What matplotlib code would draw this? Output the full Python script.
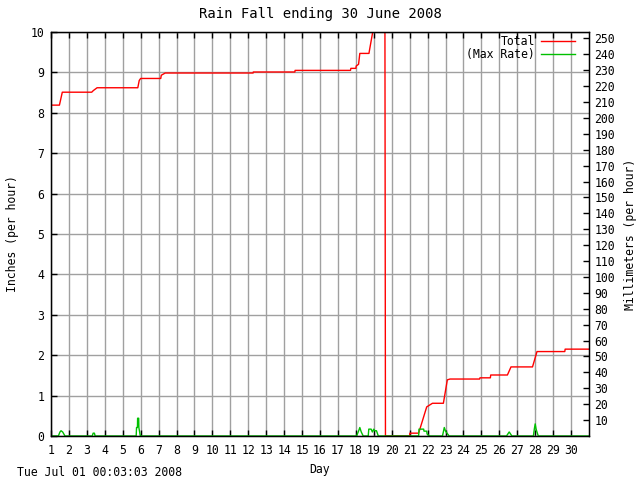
import numpy as np
from matplotlib import pyplot as plt

# cumulative rain total (inches) by day
total_day = [1.0, 1.47, 1.6, 1.63, 3.27, 3.36, 3.57, 5.84, 5.92, 6.0, 7.12, 7.15, 7.37,
             12.27, 12.28, 14.6, 14.61, 17.7, 17.72, 18.0, 18.02, 18.15, 18.22, 18.73, 18.76,
             18.94, 19.1, 19.62, 19.65, 21.0, 21.01, 21.5, 21.95, 22.27, 22.88, 23.1, 23.25,
             24.9, 24.92, 25.5, 25.52, 26.45, 26.65, 27.85, 28.1, 29.65, 29.67, 31.0]
total_in = [8.19, 8.19, 8.45, 8.51, 8.51, 8.55, 8.62, 8.62, 8.80, 8.85, 8.85, 8.93, 8.985,
            8.985, 9.01, 9.01, 9.05, 9.05, 9.10, 9.10, 9.16, 9.2, 9.47, 9.47, 9.55,
            10.0, 10.2, 10.4, 0.0, 0.0, 0.07, 0.07, 0.72, 0.81, 0.81, 1.39, 1.41,
            1.41, 1.44, 1.44, 1.51, 1.51, 1.71, 1.71, 2.09, 2.09, 2.15, 2.15]

# max rain rate (inches per hour)
rate_day = [1.0, 1.41, 1.5, 1.56, 1.65, 1.78, 3.3, 3.35, 3.42, 3.46,
            5.75, 5.77, 5.82, 5.83, 5.89, 5.9, 5.98,
            18.04, 18.15, 18.22, 18.3, 18.41,
            18.69, 18.72, 18.85, 18.92, 19.0, 19.05, 19.15, 19.25,
            21.5, 21.52, 21.78, 21.8, 21.95, 21.97, 22.1,
            22.83, 22.93, 23.0, 23.2,
            26.4, 26.55, 26.7,
            27.9, 27.95, 28.0, 28.05, 28.17, 31.0]
rate_in = [0.0, 0.0, 0.1, 0.13, 0.1, 0.0, 0.0, 0.07, 0.07, 0.0,
           0.0, 0.21, 0.21, 0.44, 0.44, 0.21, 0.0,
           0.0, 0.12, 0.21, 0.1, 0.0,
           0.0, 0.17, 0.17, 0.1, 0.17, 0.13, 0.13, 0.0,
           0.0, 0.17, 0.17, 0.12, 0.12, 0.05, 0.0,
           0.0, 0.21, 0.12, 0.0,
           0.0, 0.1, 0.0,
           0.0, 0.17, 0.3, 0.17, 0.0, 0.0]

days = list(range(1, 31))
inch_ticks = list(range(0, 11))
mm_ticks = list(range(10, 251, 10))

plt.rcParams['font.family'] = 'DejaVu Sans Mono'
plt.rcParams['font.size'] = 8.3

fig = plt.figure(figsize=(6.4, 4.8), dpi=100)
ax = fig.add_axes([51/640, 1-436/480, 538/640, 404/480])

ax.plot(total_day, total_in, color='#ff0000', lw=1.0, label='Total')
ax.plot(rate_day, rate_in, color='#00c000', lw=1.0, label='(Max Rate)')

ax.set_xlim(1, 31)
ax.set_ylim(0, 10)
ax.set_xticks(days)
ax.set_yticks(inch_ticks)
ax.grid(True, color='#a0a0a0', lw=1.0)
ax.tick_params(direction='in', length=4, width=1, top=True, pad=5)
ax.tick_params(axis='x', pad=6)
for s in ax.spines.values():
    s.set_linewidth(1.0)

ax2 = ax.twinx()
ax2.set_ylim(0, 254)
ax2.set_yticks(mm_ticks)
ax2.tick_params(direction='in', length=4, width=1, pad=4)

ax.set_title('Rain Fall ending 30 June 2008', pad=10)
ax.set_xlabel('Day', labelpad=4)
ax.set_ylabel('Inches (per hour)', labelpad=8)
ax2.set_ylabel('Millimeters (per hour)', labelpad=6)

ax.legend(loc='upper right', bbox_to_anchor=(0.974, 0.993), markerfirst=False,
          frameon=False, handlelength=2.95, borderpad=0, borderaxespad=0,
          labelspacing=0.0, handletextpad=0.5)

fig.text(17/640, 1-472/480, 'Tue Jul 01 00:03:03 2008', va='center', ha='left')

fig.savefig('out.png', dpi=100)
